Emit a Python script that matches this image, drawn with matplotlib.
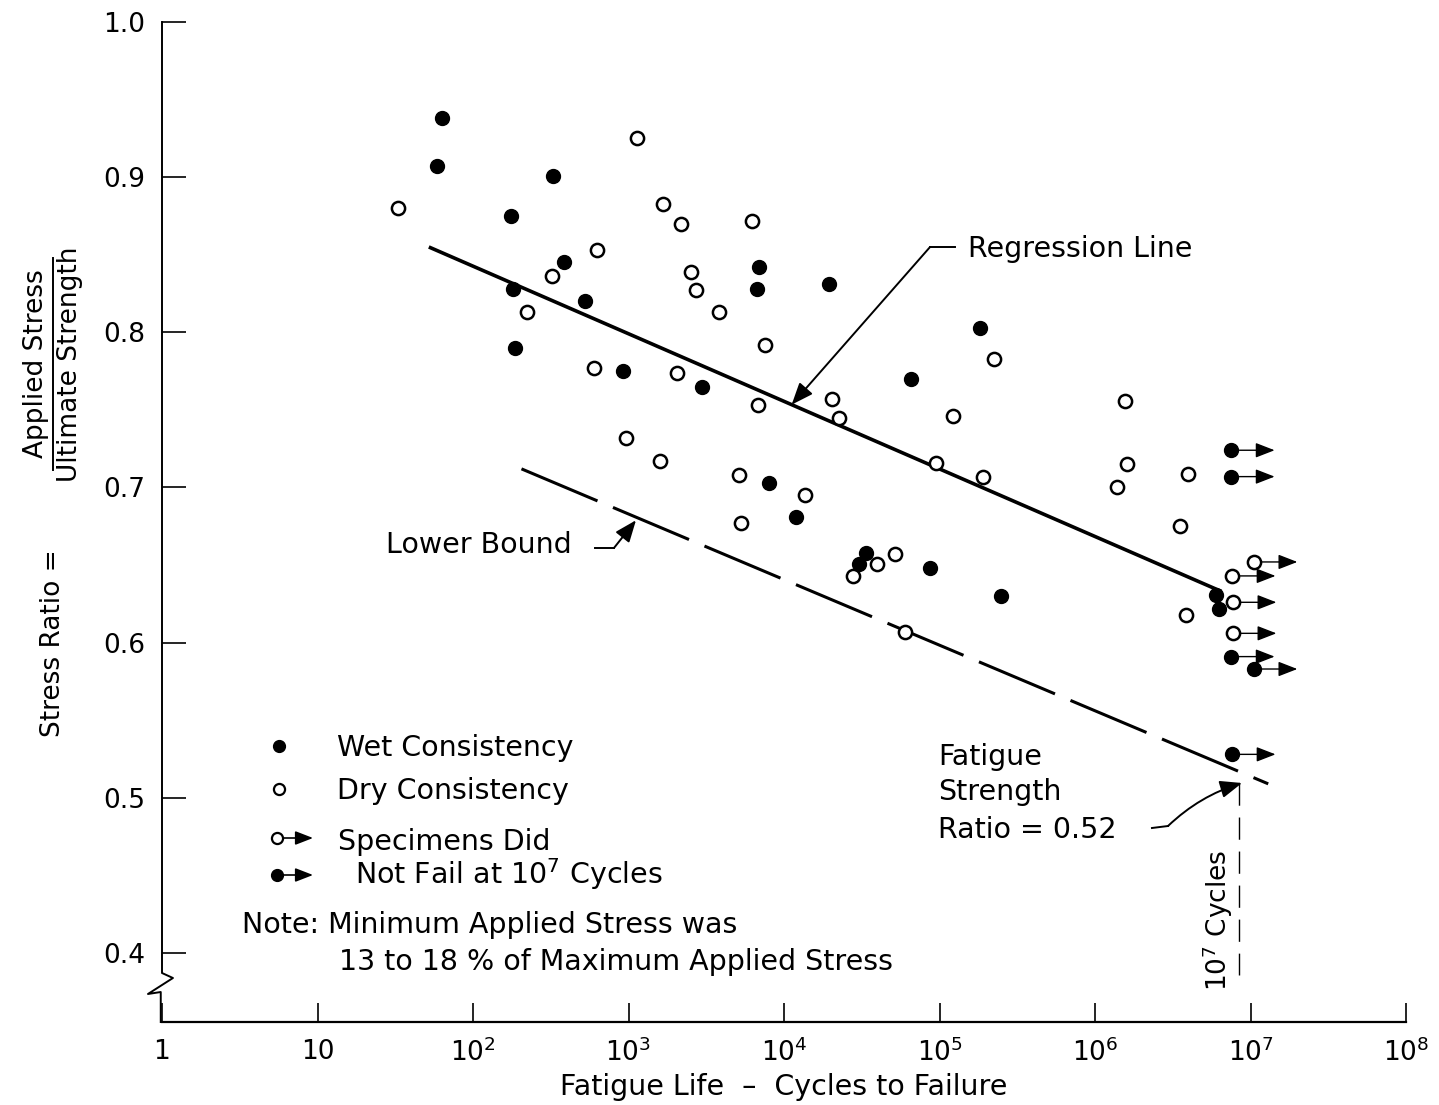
import numpy as np
import matplotlib.pyplot as plt

plt.rcParams['font.family'] = 'DejaVu Sans'
plt.rcParams['mathtext.default'] = 'regular'

# failed specimens, wet consistency (filled)
wet_cycles = [63, 59, 326, 176, 181, 385, 185, 523, 926, 2960,
              6900, 6670, 19500, 181000, 65900, 8000, 12000, 33500, 30200, 86900,
              249000, 6.0e6, 6.3e6]
wet_ratio = [0.938, 0.907, 0.901, 0.875, 0.828, 0.845, 0.790, 0.820, 0.775, 0.765,
             0.842, 0.828, 0.831, 0.803, 0.770, 0.703, 0.681, 0.658, 0.651, 0.648,
             0.630, 0.631, 0.622]
# failed specimens, dry consistency (open)
dry_cycles = [33, 1130, 1670, 2180, 6200, 630, 320, 2520, 2720, 221,
              3840, 7550, 600, 2060, 6770, 20500, 22500, 960, 1590, 5170,
              5320, 13600, 121600, 94500, 190000, 225000, 27800, 39800, 51500, 60000,
              1.55e6, 1.61e6, 1.39e6, 3.96e6, 3.54e6, 3.85e6]
dry_ratio = [0.880, 0.925, 0.883, 0.870, 0.872, 0.853, 0.836, 0.839, 0.827, 0.813,
             0.813, 0.792, 0.777, 0.774, 0.753, 0.757, 0.745, 0.732, 0.717, 0.708,
             0.677, 0.695, 0.746, 0.716, 0.707, 0.783, 0.643, 0.651, 0.657, 0.607,
             0.756, 0.715, 0.700, 0.709, 0.675, 0.618]
# specimens that did not fail at 10^7 cycles
wet_runout_cycles = [7.5e6, 7.5e6, 7.5e6, 1.05e7, 7.6e6]
wet_runout_ratio = [0.724, 0.707, 0.591, 0.583, 0.528]
dry_runout_cycles = [1.05e7, 7.6e6, 7.7e6, 7.7e6]
dry_runout_ratio = [0.652, 0.643, 0.626, 0.606]

reg_cycles = [52, 6.5e6]
reg_ratio = [0.855, 0.633]
lower_cycles = [205, 1.3e7]
lower_ratio = [0.712, 0.509]

xticks = [1, 10, 1e2, 1e3, 1e4, 1e5, 1e6, 1e7, 1e8]
xticklabels = ['1', '10', '$10^{2}$', '$10^{3}$', '$10^{4}$', '$10^{5}$',
               '$10^{6}$', '$10^{7}$', '$10^{8}$']
yticks = [0.4, 0.5, 0.6, 0.7, 0.8, 0.9, 1.0]

FS = 19     # tick labels
TS = 20.5   # annotation / legend text
W, H = 1439, 1105

fig = plt.figure(figsize=(W / 100, H / 100), dpi=100)
ax = fig.add_axes([162 / W, 1 - 1022 / H, 1244 / W, 1000 / H])
ax.set_xscale('log')
ax.set_xlim(1, 1e8)
ax.set_ylim(0.3555, 1.0)

for s in ['top', 'right', 'left']:
    ax.spines[s].set_visible(False)
ax.spines['bottom'].set_linewidth(1.6)

ax.set_xticks(xticks)
ax.set_xticklabels(xticklabels)
ax.minorticks_off()
ax.set_yticks(yticks)
ax.set_yticklabels(['%.1f' % v for v in yticks])
ax.tick_params(axis='y', direction='in', length=17, width=1.2, pad=12, labelsize=FS)
ax.tick_params(axis='x', direction='in', length=14, width=1.2, pad=12, labelsize=FS)
ax.set_xlabel('Fatigue Life  \u2013  Cycles to Failure', fontsize=TS, labelpad=4)

# left axis with break symbol
ax.plot([0, 0, 0.0088, -0.0113, -0.0010, -0.0010],
        [1, 0.049, 0.044, 0.028, 0.030, 0.0],
        transform=ax.transAxes, color='k', lw=1.4, clip_on=False)

# regression line and lower bound
ax.plot(reg_cycles, reg_ratio, color='k', lw=2.6, solid_capstyle='butt')
ax.plot(lower_cycles, lower_ratio, color='k', lw=2.2, dashes=(27, 5.5))

# runout arrows
arrow_kw = dict(arrowstyle='-|>,head_length=0.9,head_width=0.35', color='k',
                lw=1.0, mutation_scale=13, shrinkA=6, shrinkB=0)
for n, s in zip(wet_runout_cycles + dry_runout_cycles, wet_runout_ratio + dry_runout_ratio):
    ax.annotate('', xy=(n * 10 ** 0.28, s), xytext=(n, s), arrowprops=arrow_kw)

ax.plot(wet_cycles + wet_runout_cycles, wet_ratio + wet_runout_ratio, 'o', ls='none',
        ms=10, mfc='k', mec='k', zorder=4)
ax.plot(dry_cycles + dry_runout_cycles, dry_ratio + dry_runout_ratio, 'o', ls='none',
        ms=9.5, mfc='white', mec='k', mew=1.8, zorder=4)

# annotations
lead_kw = dict(arrowstyle='-|>,head_length=0.95,head_width=0.38', color='k',
               lw=1.4, mutation_scale=14, shrinkA=0, shrinkB=0)

tip_x = 1.12e4
tip_y = np.interp(np.log10(tip_x), np.log10(reg_cycles), reg_ratio)
ax.annotate('', xy=(tip_x, tip_y), xycoords='data', xytext=(0.6174, 0.775),
            textcoords='axes fraction', arrowprops=lead_kw)
ax.plot([0.6174, 0.6375], [0.775, 0.775], transform=ax.transAxes, color='k', lw=1.4)
ax.text(0.648, 0.765, 'Regression Line', transform=ax.transAxes, fontsize=TS)

tip_x = 1117
tip_y = np.interp(np.log10(tip_x), np.log10(lower_cycles), lower_ratio)
ax.annotate('', xy=(tip_x, tip_y - 0.002), xycoords='data', xytext=(0.3633, 0.474),
            textcoords='axes fraction', arrowprops=lead_kw)
ax.plot([0.348, 0.3633], [0.474, 0.474], transform=ax.transAxes, color='k', lw=1.4)
ax.text(0.180, 0.469, 'Lower Bound', transform=ax.transAxes, fontsize=TS)

ax.annotate('', xy=(0.8682, 0.239), xycoords='axes fraction', xytext=(0.8087, 0.196),
            textcoords='axes fraction',
            arrowprops=dict(lead_kw, connectionstyle='arc3,rad=-0.12'))
ax.plot([0.7958, 0.8087], [0.194, 0.196], transform=ax.transAxes, color='k', lw=1.4)
ax.text(0.6238, 0.257, 'Fatigue', transform=ax.transAxes, fontsize=TS)
ax.text(0.6238, 0.222, 'Strength', transform=ax.transAxes, fontsize=TS)
ax.text(0.6238, 0.184, 'Ratio = 0.52', transform=ax.transAxes, fontsize=TS)

# 10^7 cycles marker line
ax.plot([0.8657, 0.8657], [0.239, 0.047], transform=ax.transAxes, color='k',
        lw=1.0, dashes=(16, 8.5))
ax.text(0.849, 0.102, '$10^{7}$ Cycles', transform=ax.transAxes, fontsize=FS,
        rotation=90, ha='center', va='center')

# legend
leg_kw = dict(transform=ax.transAxes, fontsize=TS)
ax.plot(0.094, 0.276, 'o', transform=ax.transAxes, ms=8.5, mfc='k', mec='k', clip_on=False)
ax.text(0.1407, 0.266, 'Wet Consistency', **leg_kw)
ax.plot(0.094, 0.233, 'o', transform=ax.transAxes, ms=8, mfc='white', mec='k', mew=1.6,
        clip_on=False)
ax.text(0.1407, 0.223, 'Dry Consistency', **leg_kw)
small_kw = dict(arrowstyle='-|>,head_length=0.9,head_width=0.35', color='k',
                lw=1.2, mutation_scale=12, shrinkA=4, shrinkB=0)
ax.annotate('', xy=(0.1214, 0.184), xycoords='axes fraction', xytext=(0.0924, 0.184),
            textcoords='axes fraction', arrowprops=small_kw)
ax.plot(0.0924, 0.184, 'o', transform=ax.transAxes, ms=8, mfc='white', mec='k', mew=1.6,
        clip_on=False, zorder=4)
ax.text(0.1415, 0.172, 'Specimens Did', **leg_kw)
ax.annotate('', xy=(0.1214, 0.147), xycoords='axes fraction', xytext=(0.0924, 0.147),
            textcoords='axes fraction', arrowprops=small_kw)
ax.plot(0.0924, 0.147, 'o', transform=ax.transAxes, ms=8.5, mfc='k', mec='k',
        clip_on=False, zorder=4)
ax.text(0.155, 0.138, 'Not Fail at $10^{7}$ Cycles', **leg_kw)
ax.text(0.0643, 0.089, 'Note: Minimum Applied Stress was', **leg_kw)
ax.text(0.1423, 0.052, '13 to 18 % of Maximum Applied Stress', **leg_kw)

# y label as a fraction
fig.text(53 / W, 1 - 643 / H, 'Stress Ratio =', rotation=90, ha='center', va='center',
         fontsize=FS)
fig.text(36 / W, 1 - 364 / H, 'Applied Stress', rotation=90, ha='center', va='center',
         fontsize=FS)
fig.text(70 / W, 1 - 364 / H, 'Ultimate Strength', rotation=90, ha='center', va='center',
         fontsize=FS)
fig.add_artist(plt.Line2D([53 / W, 53 / W], [1 - 258 / H, 1 - 470 / H], color='k', lw=1.4,
                          transform=fig.transFigure))

fig.savefig('out.png', dpi=100)
